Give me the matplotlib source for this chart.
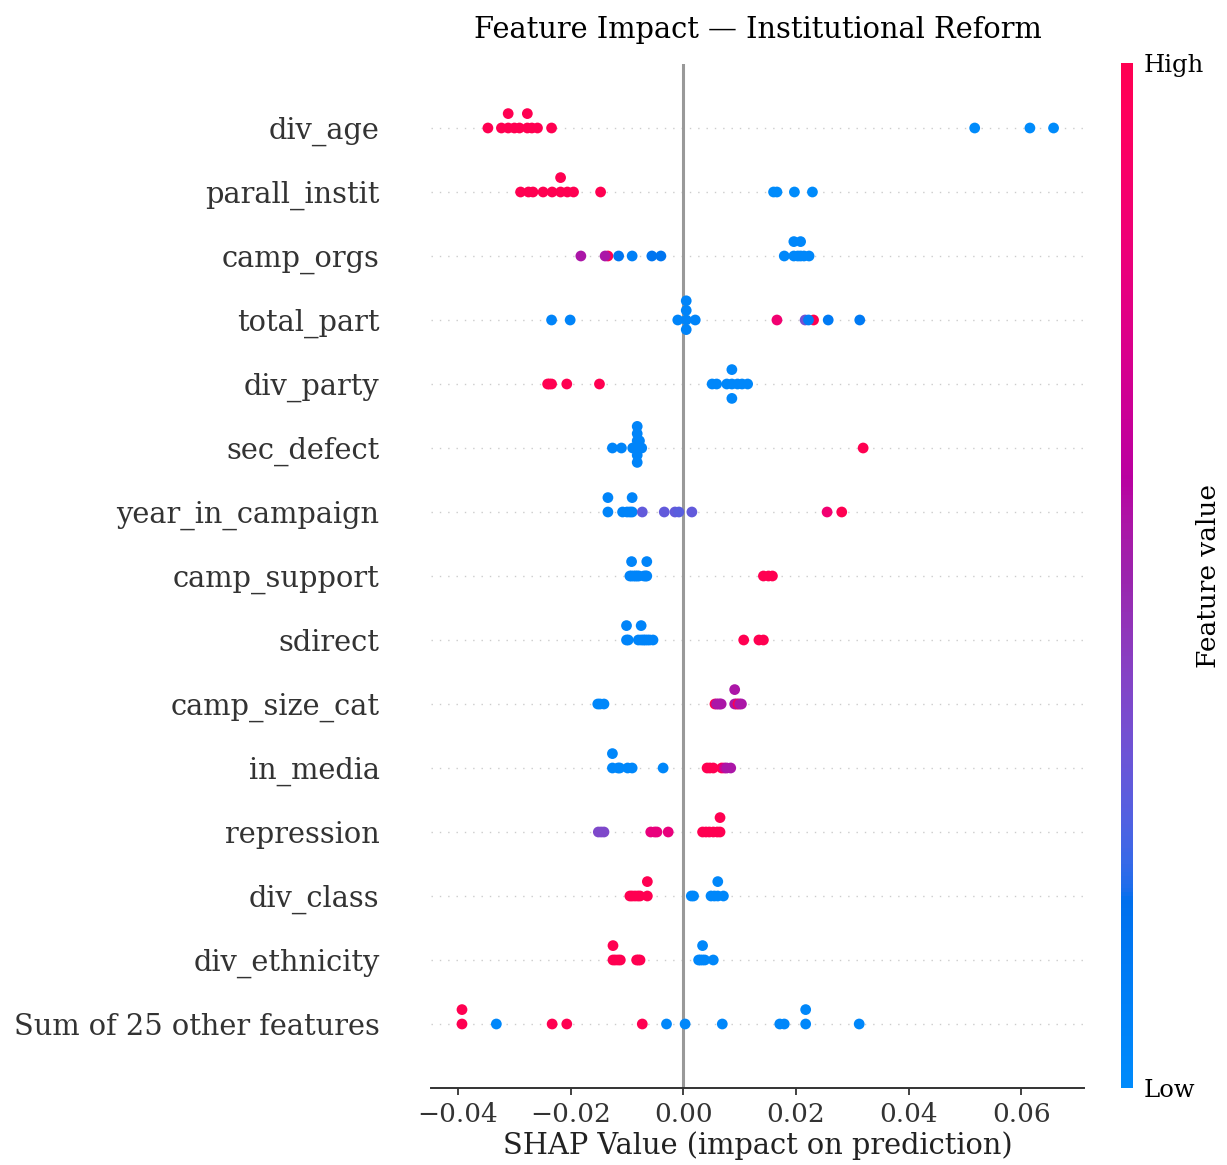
import numpy as np
import matplotlib
matplotlib.use("Agg")
import matplotlib.pyplot as plt
from matplotlib.colors import LinearSegmentedColormap

plt.rcParams['font.family'] = ['DejaVu Serif']

# --- dane: wartości SHAP i (znormalizowane) wartości cech, od góry do dołu ---
FEATURES = ['div_age', 'parall_instit', 'camp_orgs', 'total_part', 'div_party',
            'sec_defect', 'year_in_campaign', 'camp_support', 'sdirect',
            'camp_size_cat', 'in_media', 'repression', 'div_class',
            'div_ethnicity', 'Sum of 25 other features']

div_age_shap = [-0.0347, -0.0323, -0.0311, -0.0311, -0.0300, -0.0291, -0.0277, -0.0277,
                -0.0269, -0.0259, -0.0234, 0.0517, 0.0615, 0.0657]
div_age_val = [1, 1, 1, 1, 1, 1, 1, 1, 1, 1, 1, 0, 0, 0]

parall_instit_shap = [-0.0289, -0.0275, -0.0267, -0.0249, -0.0233, -0.0218, -0.0218,
                      -0.0206, -0.0195, -0.0147, 0.0160, 0.0166, 0.0197, 0.0229]
parall_instit_val = [1, 1, 1, 1, 1, 1, 1, 1, 1, 1, 0, 0, 0, 0]

camp_orgs_shap = [-0.0182, -0.0134, -0.0139, -0.0115, -0.0091, -0.0056, -0.0040,
                  0.0179, 0.0196, 0.0196, 0.0203, 0.0208, 0.0208, 0.0214, 0.0223]
camp_orgs_val = [0.55, 1.0, 0.55, 0.15, 0.08, 0.15, 0.15, 0.03, 0.03, 0.03, 0.03, 0.03, 0.03, 0.03, 0.03]

total_part_shap = [-0.0234, -0.0201, -0.0010, 0.0005, 0.0005, 0.0005, 0.0005, 0.0021,
                   0.0166, 0.0216, 0.0231, 0.0222, 0.0257, 0.0313]
total_part_val = [0.05, 0.05, 0.05, 0.05, 0.05, 0.05, 0.05, 0.05,
                  0.85, 0.35, 1.0, 0.1, 0.12, 0.12]

div_party_shap = [-0.0241, -0.0238, -0.0234, -0.0207, -0.0149, 0.0051, 0.0059, 0.0077,
                  0.0086, 0.0086, 0.0086, 0.0096, 0.0104, 0.0114]
div_party_val = [1, 1, 1, 1, 1, 0.03, 0.03, 0.03, 0.03, 0.03, 0.03, 0.03, 0.03, 0.03]

sec_defect_shap = [-0.0126, -0.0110, -0.0090, -0.0087, -0.0082, -0.0082, -0.0082, -0.0082,
                   -0.0082, -0.0082, -0.0078, -0.0078, -0.0074, 0.0319]
sec_defect_val = [0.05] * 13 + [1.0]

year_in_campaign_shap = [-0.0134, -0.0134, -0.0108, -0.0100, -0.0095, -0.0091, -0.0091,
                         -0.0073, -0.0034, -0.0015, -0.0008, 0.0015, 0.0255, 0.0281]
year_in_campaign_val = [0.05, 0.05, 0.05, 0.05, 0.05, 0.05, 0.05,
                        0.3, 0.3, 0.3, 0.28, 0.3, 0.85, 1.0]

camp_support_shap = [-0.0095, -0.0092, -0.0092, -0.0088, -0.0085, -0.0082, -0.0079,
                     -0.0070, -0.0067, -0.0065, -0.0065, 0.0142, 0.0151, 0.0158]
camp_support_val = [0.05] * 11 + [1, 1, 1]

sdirect_shap = [-0.0101, -0.0101, -0.0098, -0.0080, -0.0075, -0.0075, -0.0071, -0.0068,
                -0.0064, -0.0060, -0.0054, 0.0107, 0.0134, 0.0142]
sdirect_val = [0.05] * 11 + [1, 1, 1]

camp_size_cat_shap = [-0.0152, -0.0148, -0.0141, 0.0056, 0.0059, 0.0062, 0.0065, 0.0067,
                      0.0091, 0.0091, 0.0094, 0.0097, 0.0100, 0.0103]
camp_size_cat_val = [0.03, 0.03, 0.03, 1.0, 0.55, 0.55, 0.55, 0.55,
                     0.55, 0.55, 0.55, 1.0, 0.55, 0.55]

in_media_shap = [-0.0126, -0.0126, -0.0116, -0.0113, -0.0099, -0.0091, -0.0036,
                 0.0042, 0.0047, 0.0053, 0.0068, 0.0073, 0.0077, 0.0084]
in_media_val = [0.03, 0.03, 0.03, 0.03, 0.03, 0.03, 0.03,
                1.0, 1.0, 1.0, 1.0, 0.7, 0.55, 0.55]

repression_shap = [-0.0151, -0.0146, -0.0141, -0.0058, -0.0051, -0.0047, -0.0027,
                   0.0034, 0.0040, 0.0046, 0.0053, 0.0060, 0.0065, 0.0065]
repression_val = [0.38, 0.38, 0.38, 0.8, 0.8, 0.8, 0.8, 1, 1, 1, 1, 1, 1, 1]

div_class_shap = [-0.0095, -0.0091, -0.0086, -0.0081, -0.0077, -0.0064, -0.0064,
                  0.0014, 0.0018, 0.0049, 0.0055, 0.0061, 0.0061, 0.0071]
div_class_val = [1, 1, 1, 1, 1, 1, 1, 0.03, 0.03, 0.03, 0.03, 0.03, 0.03, 0.03]

div_ethnicity_shap = [-0.0125, -0.0125, -0.0121, -0.0116, -0.0112, -0.0083, -0.0080,
                      -0.0077, 0.0027, 0.0030, 0.0034, 0.0034, 0.0038, 0.0053]
div_ethnicity_val = [1, 1, 1, 1, 1, 1, 1, 1, 0.03, 0.03, 0.03, 0.03, 0.03, 0.03]

other_shap = [-0.0393, -0.0393, -0.0332, -0.0233, -0.0207, -0.0073, -0.0030, 0.0003,
              0.0069, 0.0171, 0.0179, 0.0217, 0.0217, 0.0312]
other_val = [1, 1, 0.03, 1, 1, 1, 0.03, 0.03, 0.03, 0.03, 0.03, 0.03, 0.03, 0.03]

ROWS = [
    (div_age_shap, div_age_val), (parall_instit_shap, parall_instit_val),
    (camp_orgs_shap, camp_orgs_val), (total_part_shap, total_part_val),
    (div_party_shap, div_party_val), (sec_defect_shap, sec_defect_val),
    (year_in_campaign_shap, year_in_campaign_val), (camp_support_shap, camp_support_val),
    (sdirect_shap, sdirect_val), (camp_size_cat_shap, camp_size_cat_val),
    (in_media_shap, in_media_val), (repression_shap, repression_val),
    (div_class_shap, div_class_val), (div_ethnicity_shap, div_ethnicity_val),
    (other_shap, other_val),
]


def lch_to_rgb(l, c, h):
    a, b = c * np.cos(h), c * np.sin(h)
    fy = (l + 16) / 116
    fx, fz = fy + a / 500, fy - b / 200
    finv = lambda t: t ** 3 if t > 0.2068966 else (t - 16 / 116) / 7.787
    xyz = np.array([finv(fx) * 0.95047, finv(fy), finv(fz) * 1.08883])
    m = np.array([[3.2404542, -1.5371385, -0.4985314],
                  [-0.9692660, 1.8760108, 0.0415560],
                  [0.0556434, -0.2040259, 1.0572252]])
    rgb = m @ xyz
    rgb = np.where(rgb > 0.0031308, 1.055 * np.abs(rgb) ** (1 / 2.4) - 0.055, 12.92 * rgb)
    return np.clip(rgb, 0, 1)


def shap_red_blue():
    blue_lch = [54., 70., 4.6588]
    red_lch = [54., 90., 0.35470565 + 2 * np.pi]
    n = 100
    ls = list(np.linspace(blue_lch[0], 40., n // 2)) + list(np.linspace(40., red_lch[0], n // 2))
    cs = np.linspace(blue_lch[1], red_lch[1], n)
    hs = np.linspace(blue_lch[2], red_lch[2], n)
    cols = [lch_to_rgb(l, c, h) for l, c, h in zip(ls, cs, hs)]
    return LinearSegmentedColormap.from_list('red_blue', list(zip(np.linspace(0, 1, n), cols)))


def swarm(vals, row_height=0.5):
    vals = np.asarray(vals, dtype=float)
    quant = np.round(100 * (vals - vals.min()) / (vals.max() - vals.min() + 1e-8))
    ys = np.zeros(len(vals))
    layer, last = 0, -1
    for i in np.argsort(quant, kind='stable'):
        if quant[i] != last:
            layer = 0
        ys[i] = np.ceil(layer / 2) * ((layer % 2) * 2 - 1)
        layer += 1
        last = quant[i]
    return ys * 0.9 * (row_height / np.max(ys + 1))


cmap = shap_red_blue()
fig = plt.figure(figsize=(12.27, 11.65), dpi=100)
ax = fig.add_axes([431 / 1227, 1 - 1088 / 1165, 653 / 1227, 1024 / 1165])

n = len(FEATURES)
for i, (sv, fv) in enumerate(ROWS):
    pos = n - 1 - i
    ax.axhline(y=pos, color="#cccccc", lw=1, dashes=(1, 5), zorder=-1)
    ax.scatter(sv, pos + swarm(sv), c=fv, cmap=cmap, vmin=0, vmax=1, s=60,
               linewidth=0, zorder=3)

ax.axvline(x=0, color="#999999", lw=2.2, zorder=-1)
ax.set_xlim(-0.0448, 0.0711)
ax.set_ylim(-1, n)
ax.set_yticks(range(n))
ax.set_yticklabels(FEATURES[::-1], fontsize=20.8, color='#333333')
ax.tick_params(axis='y', length=0, pad=37)
ax.tick_params(axis='x', labelsize=19, colors='#333333', length=5, width=1.3, pad=5)
for s in ['top', 'right', 'left']:
    ax.spines[s].set_visible(False)
ax.spines['bottom'].set_color('#333333')
ax.spines['bottom'].set_linewidth(1.4)
ax.set_xlabel('SHAP Value (impact on prediction)', fontsize=20.8, color='#222222', labelpad=3)
ax.set_title('Feature Impact — Institutional Reform', fontsize=20.8, pad=19)

cax = fig.add_axes([1121 / 1227, 1 - 1088 / 1165, 12 / 1227, 1025 / 1165])
sm = plt.cm.ScalarMappable(cmap=cmap, norm=plt.Normalize(0, 1))
cb = fig.colorbar(sm, cax=cax, ticks=[0, 1])
cb.set_ticklabels(['Low', 'High'])
cb.ax.tick_params(labelsize=17.5, length=0, pad=8)
cb.outline.set_visible(False)
cb.set_label('Feature value', size=19, labelpad=-6)

fig.savefig('out.png', dpi=100)
